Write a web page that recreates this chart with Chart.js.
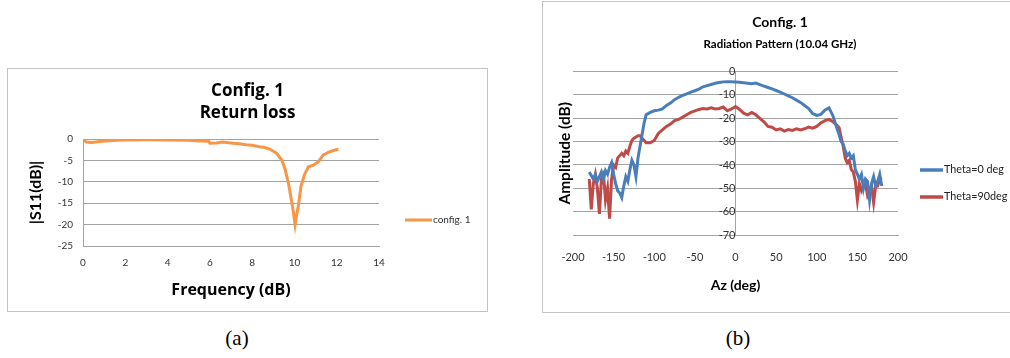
<!DOCTYPE html>
<html>
<head>
<meta charset="utf-8">
<script src="https://cdn.jsdelivr.net/npm/chart.js@4.4.1/dist/chart.umd.min.js"></script>
<style>
  html, body { margin: 0; padding: 0; background: #fff; width: 1010px; height: 358px; overflow: hidden; }
  .box { position: absolute; border: 1px solid #c4c4c4; background: #fff; }
  #boxA { left: 7px; top: 68px; width: 479px; height: 242px; }
  #boxB { left: 542px; top: 1px; width: 474px; height: 310px; }
  .cap { position: absolute; top: 326px; width: 60px; text-align: center;
         font-family: "Liberation Serif", "DejaVu Serif", serif; font-size: 21px; color: #000; }
</style>
</head>
<body>
<div class="box" id="boxA"><canvas id="chartA" width="479" height="242"></canvas></div>
<div class="box" id="boxB"><canvas id="chartB" width="474" height="310"></canvas></div>
<div class="cap" style="left:207px">(a)</div>
<div class="cap" style="left:708px">(b)</div>
<script>
// (a) return loss
const freq = [0, 0.15, 0.4, 0.8, 1.2, 1.6, 2, 3, 4, 5, 5.5, 5.95, 6.0, 6.3, 6.6, 6.9, 7.1, 7.4, 7.7, 8.0,
  8.35, 8.6, 8.85, 9.15, 9.4, 9.55, 9.72, 9.83, 9.95, 10.03, 10.1, 10.18, 10.31, 10.47, 10.66, 10.9,
  11.13, 11.37, 11.6, 11.84, 12.08];
const s11 = [0, -0.7, -0.8, -0.6, -0.4, -0.3, -0.25, -0.2, -0.25, -0.3, -0.45, -0.55, -1.0, -0.95, -0.7, -0.9, -1.0, -1.1, -1.35, -1.45,
  -1.8, -2.0, -2.4, -3.3, -4.9, -6.9, -10.4, -13.5, -17, -20, -17.8, -15.8, -11.1, -8.4, -6.5, -6.1,
  -5.3, -3.7, -3.1, -2.7, -2.4];

// (b) radiation pattern
const az = [-180, -177.5, -175, -172.5, -170, -167.5, -165, -162.5, -160, -157.5, -155, -152.5, -150, -147.5, -145,
  -142.5, -140, -137.5, -135, -132.5, -130, -127.5, -125, -122.5, -120, -117.5, -115, -112.5, -110,
  -105, -100, -95, -90, -85, -80, -75, -70, -65, -60, -55, -50, -45, -40, -35, -30, -25, -20, -15, -10, -5,
  0, 5, 10, 15, 20, 25, 30, 35, 40, 45, 50, 55, 60, 65, 70, 75, 80, 85, 90, 95, 100, 105, 110, 115, 120, 125,
  127.5, 130, 132.5, 135, 137.5, 140, 142.5, 145, 147.5, 150, 152.5, 155, 157.5, 160, 162.5, 165, 167.5,
  170, 172.5, 175, 177.5, 180];
const theta0 = [-43, -44.5, -46, -44, -47, -45, -43, -46, -42.5, -44, -41, -39, -44, -48, -51,
  -52, -54, -49, -45, -47, -42, -38, -40, -45, -37, -32, -27, -22, -18.5,
  -17.5, -16.8, -16.5, -16, -14.5, -13.5, -12, -11, -10.2, -9.5, -8.8, -8.2, -7.5, -6.5, -6, -5.5, -5, -4.7, -4.4, -4.3, -4.4,
  -4.5, -4.6, -4.8, -5, -5.2, -4.9, -5.6, -6.2, -6.8, -7.4, -8.1, -8.8, -9.6, -10.4, -11.2, -12.2, -13.2, -14.5, -15.8, -18, -18.8, -18.3, -16.5, -15.5, -19, -24.5,
  -27, -30, -31, -34, -36, -35, -37, -36, -42, -44, -46, -44, -50, -46, -47, -55, -48,
  -45, -49, -47, -44, -49];
const theta90 = [-46, -59, -48, -44, -50, -61, -46, -44, -55, -50, -63, -46, -40, -41, -37,
  -36, -35, -36, -34, -35, -32, -29.5, -28.5, -28, -27.5, -27.5, -28.5, -29.5, -30.5,
  -30.5, -29.5, -26.5, -25, -23.5, -22.5, -21, -20.5, -19.5, -18.5, -17.5, -16.8, -16.2, -15.8, -16, -15.5, -16, -15.8, -15.2, -16.8, -16,
  -15, -16.2, -17.8, -18.5, -17.5, -18.5, -20, -21.5, -23.5, -23.8, -25, -24.5, -25.5, -24.8, -25.2, -24.5, -25, -24.5, -23.8, -24.2, -23.5, -22, -21, -20.5, -21.5, -23,
  -24, -28, -32, -37, -39, -38, -42, -43, -47, -55, -48, -51, -49, -48, -53, -51, -49,
  -56, -49, -49, -46, -45.5];

Chart.defaults.font.family = 'Lato, "Open Sans", sans-serif';
Chart.defaults.color = '#333';

const GRID = '#a3a3a3';
const WIDE = '"Open Sans", Lato, sans-serif';

// legend drawn as a short line + label, Excel style
const lineLegend = {
  id: 'lineLegend',
  afterDraw(chart, args, opts) {
    const ctx = chart.ctx;
    ctx.save();
    chart.data.datasets.forEach((ds, i) => {
      const y = opts.y + i * opts.rowGap;
      ctx.strokeStyle = ds.borderColor;
      ctx.lineWidth = opts.lineWidth;
      ctx.beginPath();
      ctx.moveTo(opts.x, y);
      ctx.lineTo(opts.x + opts.lineLength, y);
      ctx.stroke();
      ctx.fillStyle = opts.color;
      ctx.font = opts.font;
      ctx.textAlign = 'left';
      ctx.textBaseline = 'middle';
      ctx.fillText(ds.label, opts.x + opts.lineLength + 1, y);
    });
    ctx.restore();
  }
};

function toPoints(xs, ys) {
  return xs.map((x, i) => ({x: x, y: ys[i]}));
}

function buildReturnLoss(canvas_id) {
  return new Chart(document.getElementById(canvas_id).getContext('2d'), {
    type: 'line',
    data: {
      datasets: [{
        label: 'config. 1',
        data: toPoints(freq, s11),
        borderColor: '#F79646',
        borderWidth: 3,
        pointRadius: 0,
        tension: 0
      }]
    },
    plugins: [lineLegend],
    options: {
      responsive: false,
      animation: false,
      layout: { padding: 0 },
      plugins: {
        legend: { display: false },
        tooltip: { enabled: false },
        title: {
          display: true,
          text: ['Config. 1', 'Return loss'],
          color: '#000',
          font: { family: WIDE, size: 17, weight: 'bold', lineHeight: 1.3 },
          padding: { top: 11.5, bottom: 14.3 }
        },
        lineLegend: { x: 397, y: 151, rowGap: 0, lineLength: 27, lineWidth: 3, color: '#333', font: '10px Lato' }
      },
      scales: {
        x: {
          type: 'linear',
          min: 0,
          max: 14,
          ticks: { stepSize: 2, padding: 11, font: { size: 10 } },
          grid: { display: false, drawTicks: false },
          border: { color: GRID },
          title: { display: true, text: 'Frequency (dB)', color: '#000', font: { family: WIDE, size: 16, weight: 'bold' }, padding: { bottom: 11 } },
          afterFit: s => { s.height = 65; }
        },
        y: {
          min: -25,
          max: 0,
          ticks: { stepSize: 5, padding: 10, font: { size: 10 } },
          grid: { color: GRID, drawTicks: false },
          border: { color: GRID },
          title: { display: true, text: '|S11(dB)|', color: '#000', font: { size: 16, weight: 'bold' }, padding: { top: 18 } },
          afterFit: s => { s.width = 75; }
        },
        yRight: {
          position: 'right',
          min: -25,
          max: 0,
          ticks: { display: false },
          grid: { display: false, drawTicks: false },
          border: { display: false },
          afterFit: s => { s.width = 108; }
        }
      }
    }
  });
}

function buildRadiationPattern(canvas_id) {
  return new Chart(document.getElementById(canvas_id).getContext('2d'), {
    type: 'line',
    data: {
      datasets: [{
        label: 'Theta=0 deg',
        data: toPoints(az, theta0),
        borderColor: '#4A7EBB',
        borderWidth: 3,
        pointRadius: 0,
        tension: 0
      }, {
        label: 'Theta=90deg',
        data: toPoints(az, theta90),
        borderColor: '#BE4B48',
        borderWidth: 3,
        pointRadius: 0,
        tension: 0
      }]
    },
    plugins: [lineLegend],
    options: {
      responsive: false,
      animation: false,
      layout: { padding: 0 },
      plugins: {
        legend: { display: false },
        tooltip: { enabled: false },
        title: {
          display: true,
          text: 'Config. 1',
          color: '#000',
          font: { size: 14, weight: 'bold' },
          padding: { top: 12, bottom: 0 }
        },
        subtitle: {
          display: true,
          text: 'Radiation Pattern (10.04 GHz)',
          color: '#000',
          font: { size: 11.5, weight: 'bold' },
          padding: { top: 7, bottom: 20 }
        },
        lineLegend: { x: 377, y: 168, rowGap: 27, lineLength: 23, lineWidth: 3.5, color: '#222', font: '10.8px Lato' }
      },
      scales: {
        x: {
          type: 'linear',
          min: -200,
          max: 200,
          ticks: { stepSize: 50, padding: 15.5, font: { size: 11 } },
          grid: { display: false, drawTicks: false },
          border: { color: GRID },
          title: { display: true, text: 'Az (deg)', color: '#000', font: { size: 14, weight: 'bold' }, padding: { bottom: 18.5 } },
          afterFit: s => { s.height = 77; }
        },
        y: {
          min: -70,
          max: 0,
          ticks: { display: false, stepSize: 10 },
          grid: { color: GRID, drawTicks: false },
          border: { display: false },
          title: { display: true, text: 'Amplitude (dB)', color: '#000', font: { size: 15.5, weight: 'bold' }, padding: { top: 12.5 } },
          afterFit: s => { s.width = 30; }
        },
        yAxis0: {
          position: { x: 0 },
          min: -70,
          max: 0,
          ticks: { stepSize: 10, padding: 5, font: { size: 11 } },
          grid: { display: false, drawTicks: false },
          border: { color: GRID }
        },
        yRight: {
          position: 'right',
          min: -70,
          max: 0,
          ticks: { display: false },
          grid: { display: false, drawTicks: false },
          border: { display: false },
          afterFit: s => { s.width = 119; }
        }
      }
    }
  });
}

buildReturnLoss('chartA');
buildRadiationPattern('chartB');
</script>
</body>
</html>
